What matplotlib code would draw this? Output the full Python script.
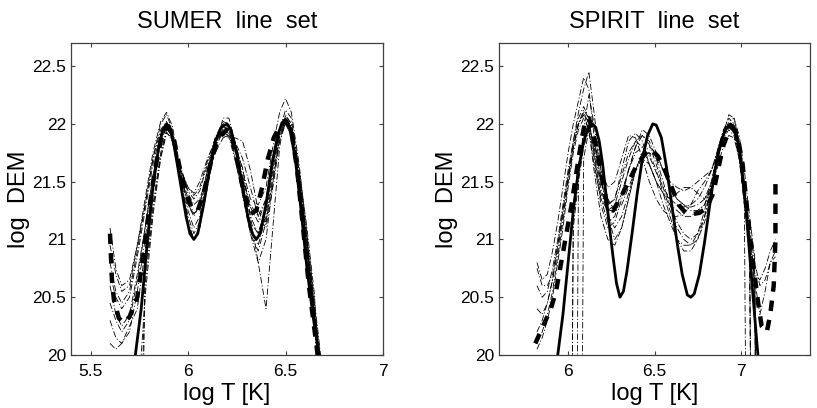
import numpy as np
import matplotlib as mpl
mpl.use("Agg")
from matplotlib import pyplot as plt

mpl.rc('font', family=['Liberation Sans', 'DejaVu Sans'])
mpl.rc('lines', scale_dashes=False)

nan = np.nan

# ---------------- SUMER line set ----------------
sumer_true_x = [5.73, 5.76, 5.79, 5.82, 5.85, 5.87, 5.89, 5.91, 5.93, 5.96, 5.99, 6.01, 6.03,
                6.05, 6.08, 6.11, 6.14, 6.17, 6.20, 6.22, 6.25, 6.28, 6.31, 6.33, 6.35, 6.37,
                6.40, 6.43, 6.46, 6.48, 6.50, 6.52, 6.55, 6.58, 6.61, 6.64, 6.68]
sumer_true_y = [20.0, 20.4, 20.95, 21.45, 21.8, 21.95, 22.0, 21.95, 21.8, 21.5, 21.2, 21.05, 21.0,
                21.05, 21.3, 21.6, 21.85, 21.97, 22.0, 21.95, 21.75, 21.45, 21.17, 21.05, 21.0, 21.05,
                21.3, 21.65, 21.9, 22.0, 22.03, 21.98, 21.7, 21.25, 20.75, 20.35, 19.9]

sumer_mean_x = [5.600, 5.605, 5.610, 5.620, 5.645, 5.670, 5.700, 5.740, 5.770, 5.800, 5.830, 5.860,
                5.880, 5.900, 5.930, 5.960, 5.990, 6.020, 6.050, 6.080, 6.110, 6.140, 6.170, 6.200,
                6.230, 6.260, 6.290, 6.320, 6.350, 6.380, 6.410, 6.440, 6.470, 6.500, 6.530, 6.560,
                6.590, 6.620, 6.650, 6.680]
sumer_mean_y = [21.05, 20.85, 20.65, 20.48, 20.32, 20.28, 20.33, 20.5, 20.85, 21.25, 21.6, 21.85,
                21.95, 21.98, 21.85, 21.6, 21.4, 21.27, 21.25, 21.4, 21.62, 21.8, 21.9, 21.95,
                21.85, 21.62, 21.38, 21.22, 21.25, 21.45, 21.7, 21.88, 21.98, 22.03, 21.95, 21.6,
                21.1, 20.6, 20.2, 19.8]

sumer_x = [5.60, 5.63, 5.66, 5.70, 5.74, 5.78, 5.82, 5.86, 5.89, 5.92, 5.96, 6.00, 6.03, 6.06, 6.10,
           6.14, 6.18, 6.21, 6.24, 6.28, 6.32, 6.36, 6.40, 6.44, 6.47, 6.50, 6.53, 6.57, 6.61, 6.65, 6.69]
sumer_runs = [
    [21.1, 20.75, 20.6, 20.65, 20.95, 21.3, 21.7, 22.0, 22.08, 21.95, 21.55, 21.15, 21.0, 21.1, 21.45,
     21.8, 22.05, 22.05, 21.85, 21.45, 21.15, 21.05, 21.3, 21.7, 21.95, 22.12, 22.05, 21.6, 21.0, 20.35, 19.7],
    [20.8, 20.55, 20.45, 20.55, 20.9, 21.3, 21.7, 21.95, 22.02, 21.92, 21.6, 21.3, 21.2, 21.3, 21.6,
     21.85, 22.0, 21.98, 21.82, 21.55, 21.3, 21.2, 21.35, 21.7, 21.92, 22.0, 21.92, 21.5, 20.95, 20.35, 19.75],
    [20.6, 20.35, 20.25, 20.35, 20.7, 21.1, 21.55, 21.88, 21.98, 21.9, 21.62, 21.42, 21.35, 21.42, 21.65,
     21.85, 21.92, 21.9, 21.82, 21.62, 21.2, 20.8, 20.4, 21.2, 21.8, 22.08, 22.0, 21.55, 20.95, 20.3, 19.7],
    [20.3, 20.15, 20.1, 20.2, 20.55, 21.0, 21.5, 21.85, 21.98, 21.92, 21.65, 21.4, 21.3, 21.35, 21.55,
     21.75, 21.88, 21.9, 21.85, 21.7, 21.45, 21.2, 21.1, 21.5, 21.85, 22.0, 21.95, 21.5, 20.9, 20.3, 19.7],
    [20.1, 20.05, 20.1, 20.25, 20.4, 20.9, 21.45, 21.85, 21.97, 21.88, 21.55, 21.2, 21.05, 21.15, 21.5,
     21.82, 21.98, 21.95, 21.75, 21.4, 21.1, 20.95, 21.2, 21.65, 21.93, 22.05, 21.97, 21.55, 21.0, 20.4, 19.8],
    [nan, nan, nan, nan, 18.0, 20.7, 21.3, 21.75, 21.95, 21.9, 21.6, 21.35, 21.22, 21.28, 21.55,
     21.8, 21.93, 21.92, 21.78, 21.52, 21.28, 21.15, 21.35, 21.72, 21.95, 22.02, 21.95, 21.5, 20.9, 20.3, 19.7],
    [nan, nan, nan, nan, 19.5, 20.5, 21.2, 21.7, 21.92, 21.88, 21.62, 21.45, 21.38, 21.45, 21.68,
     21.88, 21.95, 21.88, 21.7, 21.4, 21.05, 20.8, 21.0, 21.55, 21.9, 22.0, 21.9, 21.45, 20.85, 20.25, 19.6],
    [20.7, 20.5, 20.4, 20.5, 20.85, 21.25, 21.65, 21.92, 22.0, 21.9, 21.6, 21.45, 21.4, 21.5, 21.7,
     21.85, 21.9, 21.88, 21.88, 21.85, 21.6, 21.25, 21.15, 21.55, 21.88, 22.0, 21.92, 21.5, 20.9, 20.3, 19.7],
    [20.45, 20.3, 20.2, 20.3, 20.65, 21.1, 21.55, 21.88, 22.0, 21.92, 21.6, 21.25, 21.1, 21.2, 21.55,
     21.85, 22.0, 21.97, 21.8, 21.5, 21.2, 21.05, 21.25, 21.68, 21.95, 22.07, 22.0, 21.58, 21.0, 20.4, 19.8],
    [20.95, 20.7, 20.55, 20.6, 20.95, 21.35, 21.75, 22.02, 22.1, 21.98, 21.6, 21.3, 21.22, 21.3, 21.6,
     21.88, 22.02, 22.0, 21.85, 21.6, 21.35, 21.3, 21.45, 21.85, 22.1, 22.22, 22.1, 21.65, 21.05, 20.45, 19.85],
    [nan, nan, nan, nan, 17.0, 20.6, 21.25, 21.72, 21.93, 21.85, 21.5, 21.15, 21.0, 21.1, 21.48,
     21.8, 21.97, 21.95, 21.72, 21.38, 21.05, 20.9, 21.15, 21.6, 21.9, 22.04, 21.98, 21.6, 21.1, 20.5, 17.0],
]

# ---------------- SPIRIT line set ----------------
spirit_true_x = [5.94, 5.97, 6.00, 6.03, 6.06, 6.09, 6.12, 6.14, 6.16, 6.18, 6.20, 6.22, 6.24, 6.26,
                 6.28, 6.30, 6.32, 6.34, 6.37, 6.40, 6.43, 6.46, 6.49, 6.51, 6.54, 6.57, 6.60, 6.63,
                 6.66, 6.69, 6.71, 6.73, 6.76, 6.79, 6.82, 6.85, 6.88, 6.91, 6.94, 6.97, 7.00, 7.03,
                 7.06, 7.09, 7.11]
spirit_true_y = [20.0, 20.35, 20.8, 21.25, 21.6, 21.85, 21.98, 22.0, 21.97, 21.85, 21.65, 21.38, 21.1, 20.85,
                 20.62, 20.5, 20.55, 20.72, 21.05, 21.4, 21.7, 21.9, 22.0, 21.99, 21.88, 21.62, 21.3, 20.98,
                 20.7, 20.52, 20.5, 20.53, 20.7, 20.98, 21.3, 21.6, 21.82, 21.95, 22.0, 21.95, 21.7, 21.25,
                 20.7, 20.15, 19.8]

spirit_mean_x = [5.81, 5.84, 5.87, 5.90, 5.93, 5.96, 5.99, 6.02, 6.05, 6.08, 6.10, 6.12, 6.14, 6.17,
                 6.20, 6.23, 6.26, 6.30, 6.35, 6.40, 6.45, 6.48, 6.52, 6.56, 6.60, 6.64, 6.68, 6.72,
                 6.76, 6.80, 6.84, 6.87, 6.90, 6.93, 6.95, 6.98, 7.01, 7.04, 7.07, 7.10, 7.12, 7.15,
                 7.17, 7.19, 7.20, 7.20]
spirit_mean_y = [20.1, 20.2, 20.3, 20.4, 20.55, 20.8, 21.05, 21.3, 21.6, 21.88, 22.03, 22.05, 21.95, 21.75,
                 21.5, 21.27, 21.25, 21.35, 21.5, 21.65, 21.75, 21.78, 21.72, 21.6, 21.45, 21.3, 21.23, 21.22,
                 21.23, 21.27, 21.4, 21.62, 21.82, 21.93, 21.97, 21.9, 21.65, 21.2, 20.8, 20.45, 20.25, 20.2,
                 20.35, 20.6, 21.0, 21.52]

spirit_x = [5.82, 5.85, 5.88, 5.91, 5.94, 5.97, 6.00, 6.03, 6.06, 6.09, 6.12, 6.15, 6.19, 6.23, 6.27,
            6.31, 6.35, 6.39, 6.43, 6.47, 6.51, 6.55, 6.59, 6.63, 6.67, 6.71, 6.75, 6.79, 6.83, 6.87,
            6.90, 6.93, 6.96, 6.99, 7.02, 7.05, 7.08, 7.11, 7.14, 7.17, 7.20]
spirit_runs = [
    [20.8, 20.65, 20.7, 20.9, 21.15, 21.45, 21.75, 22.0, 22.2, 22.4, 22.3, 21.9, 21.5, 21.3, 21.35,
     21.55, 21.75, 21.85, 21.8, 21.65, 21.5, 21.4, 21.3, 21.25, 21.2, 21.2, 21.25, 21.3, 21.45, 21.7,
     21.9, 22.02, 22.05, 21.9, 21.6, 21.2, 20.85, 15.0, nan, nan, nan],
    [20.6, 20.5, 20.55, 20.75, 21.0, 21.3, 21.6, 21.85, 22.05, 22.15, 22.05, 21.75, 21.35, 21.15, 21.2,
     21.4, 21.6, 21.75, 21.8, 21.72, 21.58, 21.45, 21.35, 21.3, 21.28, 21.3, 21.35, 21.45, 21.6, 21.8,
     21.95, 22.0, 21.95, 21.75, 21.4, 21.0, 20.6, 15.0, nan, nan, nan],
    [20.2, 20.3, 20.45, 20.65, 20.9, 21.2, 21.5, 21.8, 22.0, 22.1, 22.0, 21.7, 21.3, 21.1, 21.15,
     21.35, 21.6, 21.8, 21.9, 21.85, 21.7, 21.5, 21.3, 21.15, 21.05, 21.0, 21.05, 21.2, 21.45, 21.75,
     21.92, 21.98, 21.95, 21.7, 21.3, 20.9, 20.5, 15.0, nan, nan, nan],
    [20.05, 20.15, 20.3, 20.5, 20.8, 21.1, 21.45, 21.75, 21.95, 22.05, 21.95, 21.65, 21.35, 21.25, 21.3,
     21.5, 21.7, 21.85, 21.9, 21.82, 21.65, 21.45, 21.25, 21.1, 21.0, 20.95, 21.0, 21.15, 21.4, 21.72,
     21.9, 22.0, 21.98, 21.8, 21.45, 21.05, 20.65, 20.35, 20.55, 20.8, 20.9],
    [nan, nan, nan, nan, nan, nan, 14.0, 21.3, 21.65, 21.9, 22.0, 21.8, 21.45, 21.2, 21.1,
     21.2, 21.4, 21.6, 21.75, 21.8, 21.75, 21.6, 21.45, 21.35, 21.3, 21.25, 21.25, 21.3, 21.5, 21.75,
     21.9, 21.97, 21.95, 21.75, 21.3, 15.0, nan, nan, nan, nan, nan],
    [nan, nan, nan, nan, nan, nan, nan, 14.0, 21.55, 21.95, 22.25, 22.0, 21.55, 21.2, 21.0,
     21.1, 21.35, 21.6, 21.7, 21.65, 21.5, 21.3, 21.15, 21.0, 20.95, 20.95, 21.05, 21.25, 21.5, 21.8,
     21.95, 22.05, 22.0, 21.8, 21.4, 21.0, 15.0, nan, nan, nan, nan],
    [nan, nan, nan, nan, nan, nan, nan, nan, 14.0, 21.7, 21.95, 21.85, 21.5, 21.3, 21.35,
     21.6, 21.85, 21.92, 21.85, 21.65, 21.5, 21.4, 21.35, 21.4, 21.45, 21.45, 21.4, 21.35, 21.45, 21.65,
     21.82, 21.9, 21.88, 21.7, 21.35, 20.95, 20.7, 20.65, 20.75, 20.9, 21.0],
    [20.75, 20.6, 20.6, 20.7, 20.95, 21.25, 21.55, 21.85, 22.1, 22.3, 22.45, 22.1, 21.6, 21.35, 21.25,
     21.3, 21.45, 21.6, 21.72, 21.75, 21.7, 21.6, 21.5, 21.45, 21.42, 21.45, 21.5, 21.55, 21.6, 21.78,
     21.9, 21.98, 22.0, 21.82, 21.45, 21.05, 20.7, 15.0, nan, nan, nan],
    [20.1, 20.2, 20.35, 20.55, 20.85, 21.15, 21.5, 21.8, 22.0, 22.08, 21.95, 21.6, 21.2, 21.0, 20.95,
     21.1, 21.35, 21.6, 21.75, 21.75, 21.6, 21.4, 21.2, 21.0, 20.9, 20.9, 21.0, 21.2, 21.45, 21.72,
     21.9, 21.97, 21.93, 21.72, 21.35, 20.95, 15.0, nan, nan, nan, nan],
    [20.4, 20.35, 20.45, 20.65, 20.95, 21.25, 21.55, 21.8, 22.0, 22.12, 22.05, 21.75, 21.4, 21.25, 21.25,
     21.4, 21.6, 21.8, 21.95, 21.9, 21.75, 21.6, 21.45, 21.35, 21.3, 21.28, 21.3, 21.35, 21.5, 21.75,
     21.92, 22.08, 22.05, 21.85, 21.5, 21.1, 20.8, 20.6, 20.65, 20.8, 20.85],
    [nan, nan, nan, nan, nan, nan, 14.5, 21.1, 21.5, 21.8, 21.95, 21.85, 21.6, 21.45, 21.5,
     21.7, 21.9, 21.88, 21.7, 21.5, 21.35, 21.25, 21.2, 21.2, 21.22, 21.3, 21.42, 21.5, 21.6, 21.75,
     21.88, 21.95, 21.9, 21.7, 21.4, 21.05, 15.0, nan, nan, nan, nan],
]

panels = [
    ("SUMER  line  set", [5.4, 7.0], [5.5, 6, 6.5, 7], ["5.5", "6", "6.5", "7"],
     sumer_x, sumer_runs, sumer_mean_x, sumer_mean_y, sumer_true_x, sumer_true_y,
     [71 / 817, 53 / 408, 312 / 817, 312 / 408]),
    ("SPIRIT  line  set", [5.6, 7.4], [6, 6.5, 7], ["6", "6.5", "7"],
     spirit_x, spirit_runs, spirit_mean_x, spirit_mean_y, spirit_true_x, spirit_true_y,
     [499 / 817, 53 / 408, 311 / 817, 312 / 408]),
]

y_ticks = [20, 20.5, 21, 21.5, 22, 22.5]
y_ticklabels = ["20", "20.5", "21", "21.5", "22", "22.5"]

fig = plt.figure(figsize=(8.17, 4.08), dpi=100)

for title, xlim, xticks, xticklabels, run_x, runs, mean_x, mean_y, true_x, true_y, rect in panels:
    ax = fig.add_axes(rect)
    # Monte Carlo reconstructions
    for run in runs:
        ax.plot(run_x, run, color='k', linewidth=0.6, linestyle=(0, (4.5, 1.5, 0.8, 1.5)))
    # mean of reconstructions
    ax.plot(mean_x, mean_y, color='k', linewidth=3.2, linestyle=(0, (7.5, 6.5)),
            dash_capstyle='butt')
    # true DEM
    ax.plot(true_x, true_y, color='k', linewidth=2.0, linestyle='-')

    ax.set_xlim(xlim)
    ax.set_ylim([20, 22.7])
    ax.set_xticks(xticks)
    ax.set_xticklabels(xticklabels)
    ax.set_yticks(y_ticks)
    ax.set_yticklabels(y_ticklabels)
    ax.tick_params(direction='in', top=True, right=True, length=3, width=0.8,
                   labelsize=12.5, color='0.25')
    ax.tick_params(axis='x', pad=6.5)
    ax.tick_params(axis='y', pad=3.5)
    for spine in ax.spines.values():
        spine.set_linewidth(0.9)
        spine.set_color('0.25')
    ax.set_title(title, fontsize=17, pad=11)
    ax.set_xlabel("log T [K]", fontsize=17, labelpad=3)
    ax.set_ylabel("log  DEM", fontsize=17, labelpad=1.5)

fig.savefig("out.png", dpi=100)
